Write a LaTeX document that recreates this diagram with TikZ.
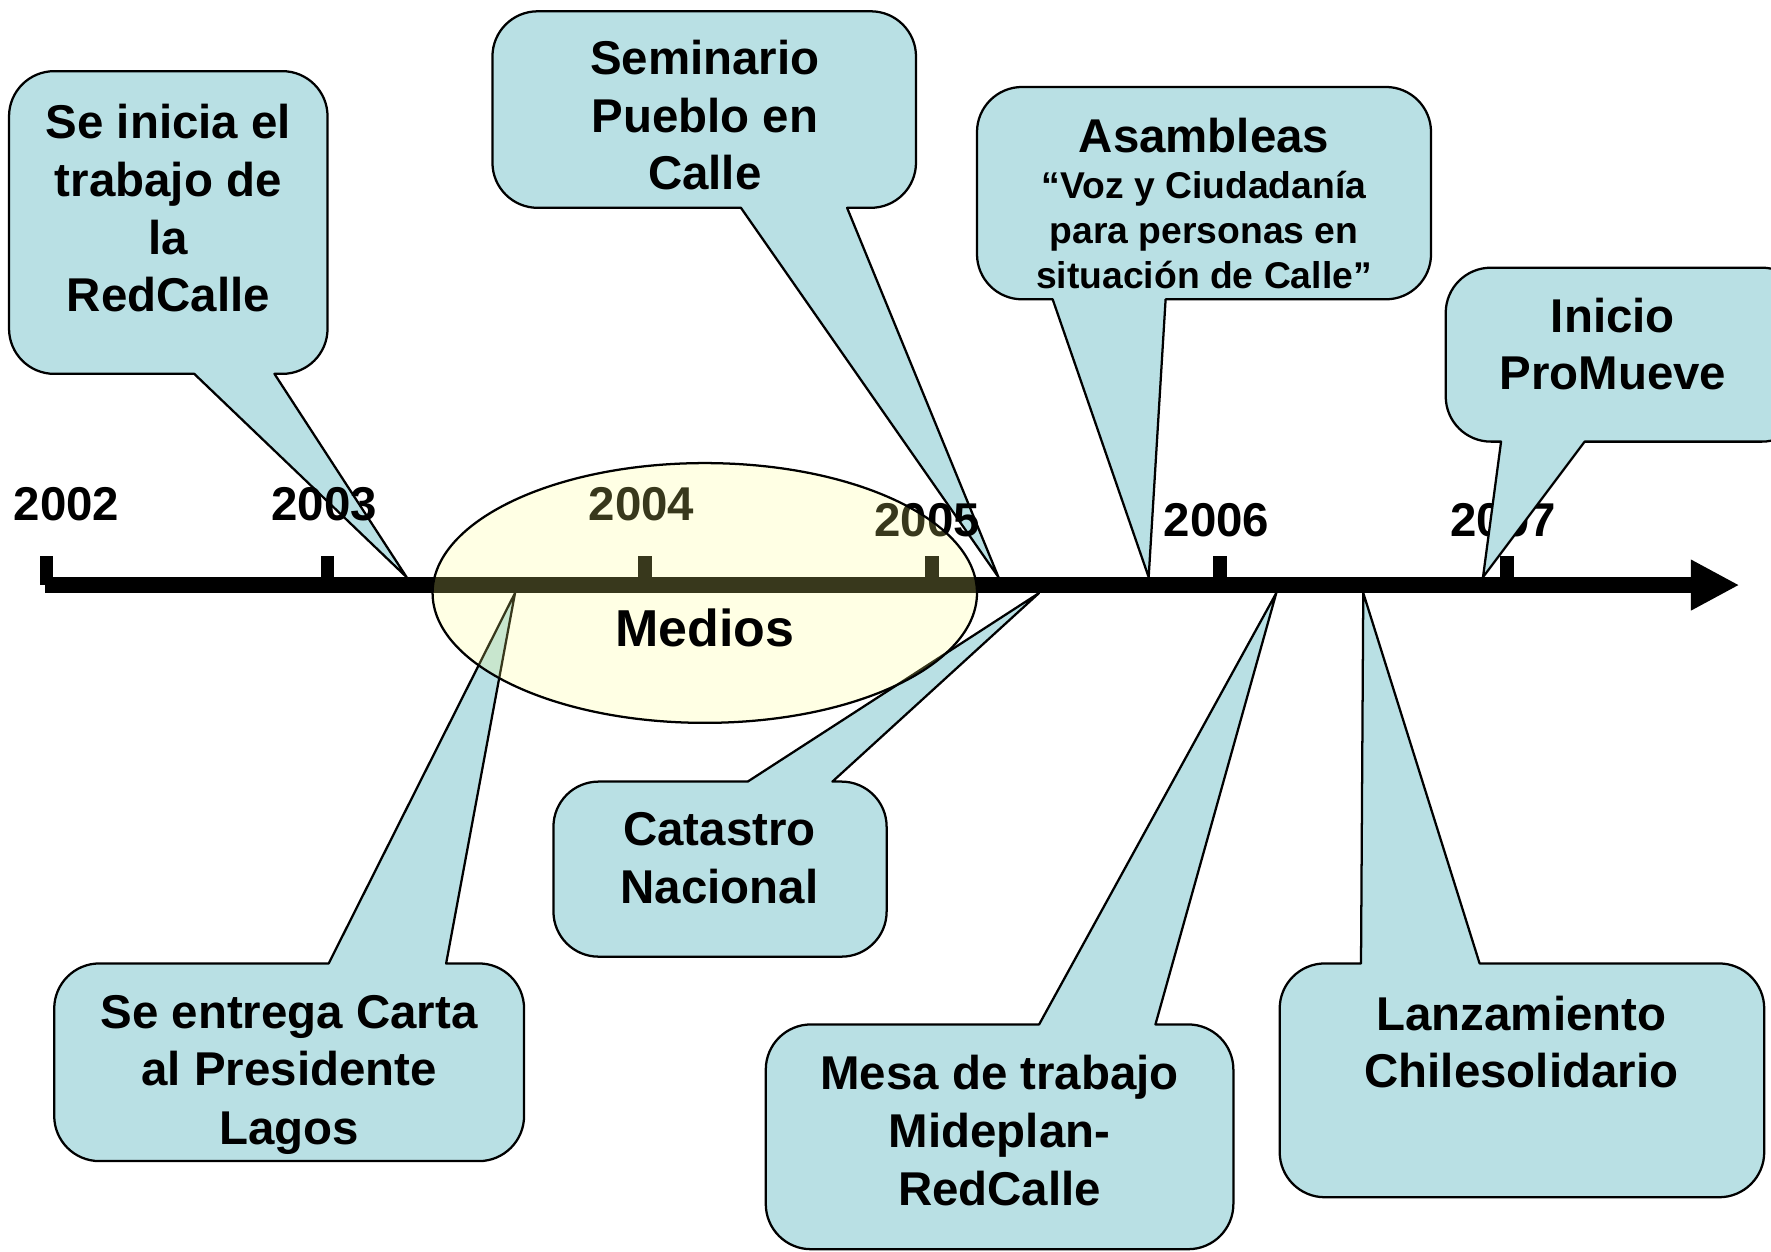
\documentclass[tikz,border=0pt]{standalone}
\usepackage{fontspec}
\setmainfont{Liberation Sans}
\usetikzlibrary{shapes.geometric,arrows.meta}
\definecolor{cfill}{RGB}{185,224,228}
\definecolor{ellfill}{RGB}{255,255,130}
\def\crad{40}
\def\cctl{17.9}
% box above the axis, pointer leaving the bottom edge
\newcommand\calldown[8]{%
  \path[cbox] (#1+\crad,#2) -- (#3-\crad,#2)
    .. controls (#3-\cctl,#2) and (#3,#2+\cctl) .. (#3,#2+\crad)
    -- (#3,#4-\crad)
    .. controls (#3,#4-\cctl) and (#3-\cctl,#4) .. (#3-\crad,#4)
    -- (#6,#4) -- (#7,#8) -- (#5,#4) -- (#1+\crad,#4)
    .. controls (#1+\cctl,#4) and (#1,#4-\cctl) .. (#1,#4-\crad)
    -- (#1,#2+\crad)
    .. controls (#1,#2+\cctl) and (#1+\cctl,#2) .. (#1+\crad,#2) -- cycle;}
% box below the axis, pointer leaving the top edge
\newcommand\callup[8]{%
  \path[cbox] (#1+\crad,#2) -- (#5,#2) -- (#7,#8) -- (#6,#2) -- (#3-\crad,#2)
    .. controls (#3-\cctl,#2) and (#3,#2+\cctl) .. (#3,#2+\crad)
    -- (#3,#4-\crad)
    .. controls (#3,#4-\cctl) and (#3-\cctl,#4) .. (#3-\crad,#4)
    -- (#1+\crad,#4)
    .. controls (#1+\cctl,#4) and (#1,#4-\cctl) .. (#1,#4-\crad)
    -- (#1,#2+\crad)
    .. controls (#1,#2+\cctl) and (#1+\cctl,#2) .. (#1+\crad,#2) -- cycle;}
\begin{document}
\begin{tikzpicture}[x=1pt,y=-1pt,line join=round,
  cbox/.style={fill=cfill,draw=black,line width=2pt},
  big/.style={font=\bfseries\fontsize{42}{51}\selectfont,inner sep=0pt,anchor=base},
  small/.style={font=\bfseries\fontsize{33}{40}\selectfont,inner sep=0pt,anchor=base},
  tickmark/.style={fill=black}]
\useasboundingbox (0,0) rectangle (1568,1108);
\clip (0,0) rectangle (1568,1108);

% axis and ticks
\coordinate (axL) at (40,518);
\coordinate (axR) at (1540,518);
\draw[line width=14pt,-{Triangle[length=43pt,width=42pt]}] (axL) -- (axR);
\foreach \t in {41,290,571,825,1080,1334}
  \fill[tickmark] (\t-6,492) rectangle (\t+6,518);

% year labels (beneath the callouts)
\node[big] (y2002) at (59,461) {2002};
\node[big] (y2004) at (568,461) {2004};
\node[big] (y2006) at (1077,475) {2006};
\node[big] (y2007) at (1331,475) {2007};

% callouts above the axis
\calldown{8}{63}{290}{331}{172}{243}{360}{511}
\calldown{436}{10}{811}{184}{656}{750}{884}{511}
\calldown{865}{77}{1267}{265}{932}{1032}{1017}{511}
\calldown{1280}{237}{1600}{391}{1329}{1403}{1313}{511}
% callouts below the axis
\callup{48}{853}{464}{1028}{291}{395}{456}{525}
\callup{490}{692}{785}{847}{662}{737}{920}{525}
\callup{678}{907}{1092}{1106}{920}{1023}{1130}{525}
\callup{1133}{853}{1562}{1060}{1205}{1310}{1207}{525}

\node[big] (y2003) at (287,461) {2003};
\node[big] (y2005) at (821,475) {2005};

% texts of the callouts
\node[big] (a1) at (149,123) {Se inicia el};
\node[big] (a2) at (149,174) {trabajo de};
\node[big] (a3) at (149,225) {la};
\node[big] (a4) at (149,276) {RedCalle};

\node[big] (b1) at (624,66) {Seminario};
\node[big] (b2) at (624,117) {Pueblo en};
\node[big] (b3) at (624,168) {Calle};

\node[big] (c1) at (1066,135) {Asambleas};
\node[small] (c2) at (1066,176) {“Voz y Ciudadanía};
\node[small] (c3) at (1066,216) {para personas en};
\node[small] (c4) at (1066,255) {situación de Calle”};

\node[big] (d1) at (1428,294) {Inicio};
\node[big] (d2) at (1428,345) {ProMueve};

\node[big] (e1) at (256,911) {Se entrega Carta};
\node[big] (e2) at (256,961) {al Presidente};
\node[big] (e3) at (256,1013) {Lagos};

\node[big] (f1) at (637,749) {Catastro};
\node[big] (f2) at (637,800) {Nacional};

\node[big] (g1) at (885,965) {Mesa de trabajo};
\node[big] (g2) at (885,1016) {Mideplan-};
\node[big] (g3) at (885,1067) {RedCalle};

\node[big] (h1) at (1347,912) {Lanzamiento};
\node[big] (h2) at (1347,963) {Chilesolidario};

% Medios ellipse
\node[ellipse,draw=black,line width=2pt,fill=ellfill,fill opacity=0.22,draw opacity=1,
      minimum width=482pt,minimum height=230pt,inner sep=0pt] (medell) at (624,525) {};
\node[font=\bfseries\fontsize{46}{55}\selectfont,inner sep=0pt,anchor=base] (medios) at (624,572) {Medios};
\end{tikzpicture}
\end{document}
